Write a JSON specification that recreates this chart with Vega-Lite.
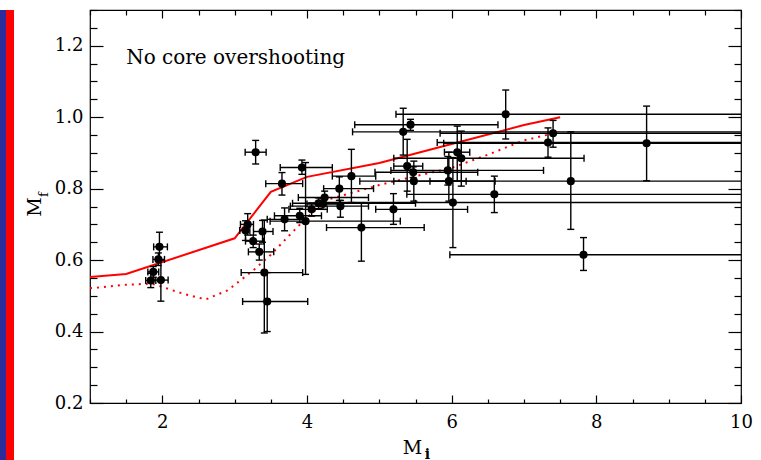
{
  "$schema": "https://vega.github.io/schema/vega-lite/v6.json",
  "padding": 0,
  "background": "white",
  "spacing": 10,
  "config": {
    "view": {"stroke": "black", "strokeWidth": 1.2},
    "font": "DejaVu Serif",
    "axis": {
      "labelFont": "DejaVu Serif",
      "titleFont": "DejaVu Serif",
      "labelColor": "black",
      "titleColor": "black",
      "tickColor": "black",
      "tickWidth": 1.2,
      "domain": false,
      "grid": false,
      "titleFontWeight": "normal",
      "labelOverlap": false,
      "labelFlush": false,
      "labelBound": false
    }
  },
  "datasets": {
    "stars": [
      {"mi": 1.96, "mf": 0.637, "mi_lo": 1.88, "mi_hi": 2.07, "mf_lo": 0.6, "mf_hi": 0.678},
      {"mi": 1.945, "mf": 0.602, "mi_lo": 1.87, "mi_hi": 2.03, "mf_lo": 0.585, "mf_hi": 0.62},
      {"mi": 1.875, "mf": 0.567, "mi_lo": 1.8, "mi_hi": 1.95, "mf_lo": 0.552, "mf_hi": 0.582},
      {"mi": 1.84, "mf": 0.543, "mi_lo": 1.77, "mi_hi": 1.91, "mf_lo": 0.523, "mf_hi": 0.563},
      {"mi": 1.98, "mf": 0.544, "mi_lo": 1.88, "mi_hi": 2.08, "mf_lo": 0.485, "mf_hi": 0.6},
      {"mi": 3.29, "mf": 0.902, "mi_lo": 3.145, "mi_hi": 3.435, "mf_lo": 0.869, "mf_hi": 0.935},
      {"mi": 3.18, "mf": 0.7, "mi_lo": 3.08, "mi_hi": 3.26, "mf_lo": 0.67, "mf_hi": 0.73},
      {"mi": 3.15, "mf": 0.683, "mi_lo": 3.07, "mi_hi": 3.21, "mf_lo": 0.655, "mf_hi": 0.71},
      {"mi": 3.385, "mf": 0.68, "mi_lo": 3.26, "mi_hi": 3.53, "mf_lo": 0.65, "mf_hi": 0.711},
      {"mi": 3.256, "mf": 0.653, "mi_lo": 3.15, "mi_hi": 3.4, "mf_lo": 0.635, "mf_hi": 0.67},
      {"mi": 3.34, "mf": 0.623, "mi_lo": 3.19, "mi_hi": 3.54, "mf_lo": 0.6, "mf_hi": 0.645},
      {"mi": 3.41, "mf": 0.565, "mi_lo": 3.09, "mi_hi": 3.94, "mf_lo": 0.396, "mf_hi": 0.712},
      {"mi": 3.45, "mf": 0.484, "mi_lo": 3.11, "mi_hi": 4.01, "mf_lo": 0.4, "mf_hi": 0.565},
      {"mi": 3.654, "mf": 0.814, "mi_lo": 3.43, "mi_hi": 3.94, "mf_lo": 0.782, "mf_hi": 0.845},
      {"mi": 3.93, "mf": 0.859, "mi_lo": 3.63, "mi_hi": 4.35, "mf_lo": 0.84, "mf_hi": 0.88},
      {"mi": 3.69, "mf": 0.714, "mi_lo": 3.45, "mi_hi": 3.95, "mf_lo": 0.682, "mf_hi": 0.746},
      {"mi": 3.9, "mf": 0.724, "mi_lo": 3.55, "mi_hi": 4.2, "mf_lo": 0.705, "mf_hi": 0.745},
      {"mi": 3.98, "mf": 0.709, "mi_lo": 3.49, "mi_hi": 5.29, "mf_lo": 0.56, "mf_hi": 0.873},
      {"mi": 4.614, "mf": 0.835, "mi_lo": 4.35, "mi_hi": 4.95, "mf_lo": 0.761, "mf_hi": 0.91},
      {"mi": 4.447, "mf": 0.8, "mi_lo": 4.23, "mi_hi": 4.92, "mf_lo": 0.767, "mf_hi": 0.833},
      {"mi": 4.244, "mf": 0.775, "mi_lo": 3.88, "mi_hi": 4.85, "mf_lo": 0.758, "mf_hi": 0.793},
      {"mi": 4.16, "mf": 0.759, "mi_lo": 3.8, "mi_hi": 5.5, "mf_lo": 0.744, "mf_hi": 0.774},
      {"mi": 4.22, "mf": 0.757, "mi_lo": 4.0, "mi_hi": 4.45, "mf_lo": 0.742, "mf_hi": 0.772},
      {"mi": 4.462, "mf": 0.751, "mi_lo": 3.77, "mi_hi": 4.85, "mf_lo": 0.72, "mf_hi": 0.767},
      {"mi": 4.064, "mf": 0.742, "mi_lo": 3.75, "mi_hi": 4.28, "mf_lo": 0.723, "mf_hi": 0.76},
      {"mi": 4.752, "mf": 0.691, "mi_lo": 4.27, "mi_hi": 5.62, "mf_lo": 0.597, "mf_hi": 0.76},
      {"mi": 5.195, "mf": 0.742, "mi_lo": 4.95, "mi_hi": 6.22, "mf_lo": 0.7, "mf_hi": 0.786},
      {"mi": 6.747, "mf": 1.008, "mi_lo": 5.23, "mi_hi": 10.5, "mf_lo": 0.939, "mf_hi": 1.076},
      {"mi": 5.431, "mf": 0.979, "mi_lo": 4.66, "mi_hi": 6.64, "mf_lo": 0.963, "mf_hi": 0.994},
      {"mi": 5.33, "mf": 0.959, "mi_lo": 4.63, "mi_hi": 10.5, "mf_lo": 0.894, "mf_hi": 1.025},
      {"mi": 6.077, "mf": 0.902, "mi_lo": 5.9, "mi_hi": 6.25, "mf_lo": 0.821, "mf_hi": 0.975},
      {"mi": 6.133, "mf": 0.885, "mi_lo": 5.2, "mi_hi": 7.83, "mf_lo": 0.807, "mf_hi": 0.961},
      {"mi": 5.385, "mf": 0.863, "mi_lo": 5.2, "mi_hi": 5.6, "mf_lo": 0.793, "mf_hi": 0.938},
      {"mi": 5.468, "mf": 0.846, "mi_lo": 4.94, "mi_hi": 6.36, "mf_lo": 0.831, "mf_hi": 0.861},
      {"mi": 5.477, "mf": 0.821, "mi_lo": 4.73, "mi_hi": 6.6, "mf_lo": 0.765, "mf_hi": 0.877},
      {"mi": 5.947, "mf": 0.851, "mi_lo": 5.16, "mi_hi": 7.27, "mf_lo": 0.81, "mf_hi": 0.89},
      {"mi": 5.961, "mf": 0.821, "mi_lo": 5.7, "mi_hi": 6.2, "mf_lo": 0.765, "mf_hi": 0.902},
      {"mi": 6.017, "mf": 0.761, "mi_lo": 4.26, "mi_hi": 10.5, "mf_lo": 0.635, "mf_hi": 0.887},
      {"mi": 6.59, "mf": 0.784, "mi_lo": 5.38, "mi_hi": 10.5, "mf_lo": 0.733, "mf_hi": 0.835},
      {"mi": 7.402, "mf": 0.955, "mi_lo": 5.84, "mi_hi": 10.5, "mf_lo": 0.916, "mf_hi": 0.991},
      {"mi": 7.332, "mf": 0.929, "mi_lo": 5.8, "mi_hi": 10.5, "mf_lo": 0.888, "mf_hi": 0.97},
      {"mi": 7.647, "mf": 0.821, "mi_lo": 5.2, "mi_hi": 10.5, "mf_lo": 0.686, "mf_hi": 0.959},
      {"mi": 7.823, "mf": 0.615, "mi_lo": 5.975, "mi_hi": 10.5, "mf_lo": 0.571, "mf_hi": 0.663},
      {"mi": 8.695, "mf": 0.927, "mi_lo": 5.89, "mi_hi": 10.5, "mf_lo": 0.822, "mf_hi": 1.031}
    ],
    "solid_track": [
      {"mi": 1.0, "mf": 0.553}, {"mi": 1.5, "mf": 0.561}, {"mi": 3.0, "mf": 0.661},
      {"mi": 3.5, "mf": 0.791}, {"mi": 4.0, "mf": 0.833}, {"mi": 5.0, "mf": 0.872},
      {"mi": 6.0, "mf": 0.925}, {"mi": 7.0, "mf": 0.978}, {"mi": 7.5, "mf": 1.0}
    ],
    "dotted_track": [
      {"mi": 1.0, "mf": 0.521}, {"mi": 1.5, "mf": 0.531}, {"mi": 1.85, "mf": 0.534},
      {"mi": 2.0, "mf": 0.525}, {"mi": 2.3, "mf": 0.505}, {"mi": 2.6, "mf": 0.49},
      {"mi": 2.9, "mf": 0.515}, {"mi": 3.25, "mf": 0.57}, {"mi": 3.5, "mf": 0.615},
      {"mi": 3.75, "mf": 0.668}, {"mi": 4.0, "mf": 0.72}, {"mi": 4.3, "mf": 0.77},
      {"mi": 5.0, "mf": 0.81}, {"mi": 5.5, "mf": 0.835}, {"mi": 6.0, "mf": 0.858},
      {"mi": 6.5, "mf": 0.895}, {"mi": 7.0, "mf": 0.935}, {"mi": 7.45, "mf": 0.957}
    ],
    "note": [{"mi": 1.5, "mf": 1.165, "text": "No core overshooting"}],
    "edge": [{"band": "blue", "from": 0, "to": 6}, {"band": "red", "from": 6, "to": 14}]
  },
  "hconcat": [
    {
      "width": 14,
      "height": 460,
      "view": {"stroke": null},
      "data": {"name": "edge"},
      "mark": {"type": "rect"},
      "encoding": {
        "x": {"field": "from", "type": "quantitative", "scale": {"domain": [0, 14], "nice": false, "zero": false}, "axis": null},
        "x2": {"field": "to"},
        "color": {"field": "band", "type": "nominal", "scale": {"domain": ["blue", "red"], "range": ["#2c2c9c", "#ff0000"]}, "legend": null}
      }
    },
    {
      "width": 651,
      "height": 393,
      "resolve": {"axis": {"x": "independent", "y": "independent"}},
      "layer": [
        {
          "data": {"name": "solid_track"},
          "mark": {"type": "line", "color": "#ff0000", "strokeWidth": 2, "clip": true},
          "encoding": {
            "x": {"field": "mi", "type": "quantitative", "scale": {"domain": [1, 10], "nice": false, "zero": false}, "axis": null},
            "y": {"field": "mf", "type": "quantitative", "scale": {"domain": [0.2, 1.3], "nice": false, "zero": false}, "axis": null}
          }
        },
        {
          "data": {"name": "dotted_track"},
          "mark": {"type": "line", "color": "#ff0000", "strokeWidth": 2, "strokeDash": [2, 5], "clip": true},
          "encoding": {
            "x": {"field": "mi", "type": "quantitative", "scale": {"domain": [1, 10], "nice": false, "zero": false}, "axis": null},
            "y": {"field": "mf", "type": "quantitative", "scale": {"domain": [0.2, 1.3], "nice": false, "zero": false}, "axis": null}
          }
        },
        {
          "data": {"name": "stars"},
          "mark": {"type": "rule", "color": "black", "strokeWidth": 1.4, "clip": true},
          "encoding": {
            "x": {"field": "mi_lo", "type": "quantitative", "scale": {"domain": [1, 10], "nice": false, "zero": false}, "axis": null},
            "x2": {"field": "mi_hi"},
            "y": {"field": "mf", "type": "quantitative", "scale": {"domain": [0.2, 1.3], "nice": false, "zero": false}, "axis": null}
          }
        },
        {
          "data": {"name": "stars"},
          "mark": {"type": "rule", "color": "black", "strokeWidth": 1.4, "clip": true},
          "encoding": {
            "x": {"field": "mi", "type": "quantitative", "scale": {"domain": [1, 10], "nice": false, "zero": false}, "axis": null},
            "y": {"field": "mf_lo", "type": "quantitative", "scale": {"domain": [0.2, 1.3], "nice": false, "zero": false}, "axis": null},
            "y2": {"field": "mf_hi"}
          }
        },
        {
          "data": {"name": "stars"},
          "transform": [{"fold": ["mf_lo", "mf_hi"], "as": ["end", "cap_mf"]}],
          "mark": {"type": "tick", "orient": "horizontal", "color": "black", "size": 7, "thickness": 1.4, "opacity": 1, "clip": true},
          "encoding": {
            "x": {"field": "mi", "type": "quantitative", "scale": {"domain": [1, 10], "nice": false, "zero": false}, "axis": null},
            "y": {"field": "cap_mf", "type": "quantitative", "scale": {"domain": [0.2, 1.3], "nice": false, "zero": false}, "axis": null}
          }
        },
        {
          "data": {"name": "stars"},
          "transform": [{"fold": ["mi_lo", "mi_hi"], "as": ["end", "cap_mi"]}],
          "mark": {"type": "tick", "orient": "vertical", "color": "black", "size": 7, "thickness": 1.4, "opacity": 1, "clip": true},
          "encoding": {
            "x": {"field": "cap_mi", "type": "quantitative", "scale": {"domain": [1, 10], "nice": false, "zero": false}, "axis": null},
            "y": {"field": "mf", "type": "quantitative", "scale": {"domain": [0.2, 1.3], "nice": false, "zero": false}, "axis": null}
          }
        },
        {
          "data": {"name": "stars"},
          "mark": {"type": "circle", "color": "black", "size": 66, "opacity": 1},
          "encoding": {
            "x": {
              "field": "mi", "type": "quantitative",
              "scale": {"domain": [1, 10], "nice": false, "zero": false},
              "axis": {
                "orient": "bottom",
                "values": [1, 1.5, 2, 2.5, 3, 3.5, 4, 4.5, 5, 5.5, 6, 6.5, 7, 7.5, 8, 8.5, 9, 9.5, 10],
                "tickSize": {"condition": {"test": "datum.value % 2 === 0", "value": -8}, "value": -4},
                "labelExpr": "datum.value % 2 === 0 ? format(datum.value, 'd') : ''",
                "labelFontSize": 18,
                "labelPadding": 18,
                "title": "M",
                "titleFontSize": 19,
                "titleX": 322,
                "titleY": 50,
                "titleAlign": "center",
                "titleBaseline": "alphabetic"
              }
            },
            "y": {
              "field": "mf", "type": "quantitative",
              "scale": {"domain": [0.2, 1.3], "nice": false, "zero": false},
              "axis": {
                "orient": "left",
                "values": [0.2, 0.25, 0.3, 0.35, 0.4, 0.45, 0.5, 0.55, 0.6, 0.65, 0.7, 0.75, 0.8, 0.85, 0.9, 0.95, 1.0, 1.05, 1.1, 1.15, 1.2, 1.25, 1.3],
                "tickSize": {"condition": {"test": "abs(datum.value * 5 - round(datum.value * 5)) < 0.001", "value": -13}, "value": -7},
                "labelExpr": "abs(datum.value * 5 - round(datum.value * 5)) < 0.001 ? format(datum.value, '.1f') : ''",
                "labelFontSize": 18,
                "labelPadding": 20,
                "title": "M",
                "titleFontSize": 19,
                "titlePadding": 10
              }
            }
          }
        },
        {
          "data": {"name": "note"},
          "mark": {"type": "text", "align": "left", "baseline": "middle", "fontSize": 20, "font": "DejaVu Serif", "color": "black"},
          "encoding": {
            "text": {"field": "text"},
            "x": {
              "field": "mi", "type": "quantitative",
              "scale": {"domain": [1, 10], "nice": false, "zero": false},
              "axis": {
                "orient": "top",
                "values": [1, 1.5, 2, 2.5, 3, 3.5, 4, 4.5, 5, 5.5, 6, 6.5, 7, 7.5, 8, 8.5, 9, 9.5, 10],
                "tickSize": {"condition": {"test": "datum.value % 2 === 0", "value": -8}, "value": -5},
                "labels": false,
                "minExtent": 9,
                "title": "i",
                "titleFontSize": 14,
                "titleFontWeight": "bold",
                "titleX": 337,
                "titleY": 448,
                "titleAlign": "center",
                "titleBaseline": "alphabetic"
              }
            },
            "y": {
              "field": "mf", "type": "quantitative",
              "scale": {"domain": [0.2, 1.3], "nice": false, "zero": false},
              "axis": {
                "orient": "right",
                "values": [0.2, 0.25, 0.3, 0.35, 0.4, 0.45, 0.5, 0.55, 0.6, 0.65, 0.7, 0.75, 0.8, 0.85, 0.9, 0.95, 1.0, 1.05, 1.1, 1.15, 1.2, 1.25, 1.3],
                "tickSize": {"condition": {"test": "abs(datum.value * 5 - round(datum.value * 5)) < 0.001", "value": -13}, "value": -7},
                "labels": false,
                "title": "f",
                "titleFontSize": 13,
                "titleAngle": 270,
                "titleX": -694,
                "titleY": 184,
                "titleAlign": "center",
                "titleBaseline": "alphabetic"
              }
            }
          }
        }
      ]
    }
  ]
}
